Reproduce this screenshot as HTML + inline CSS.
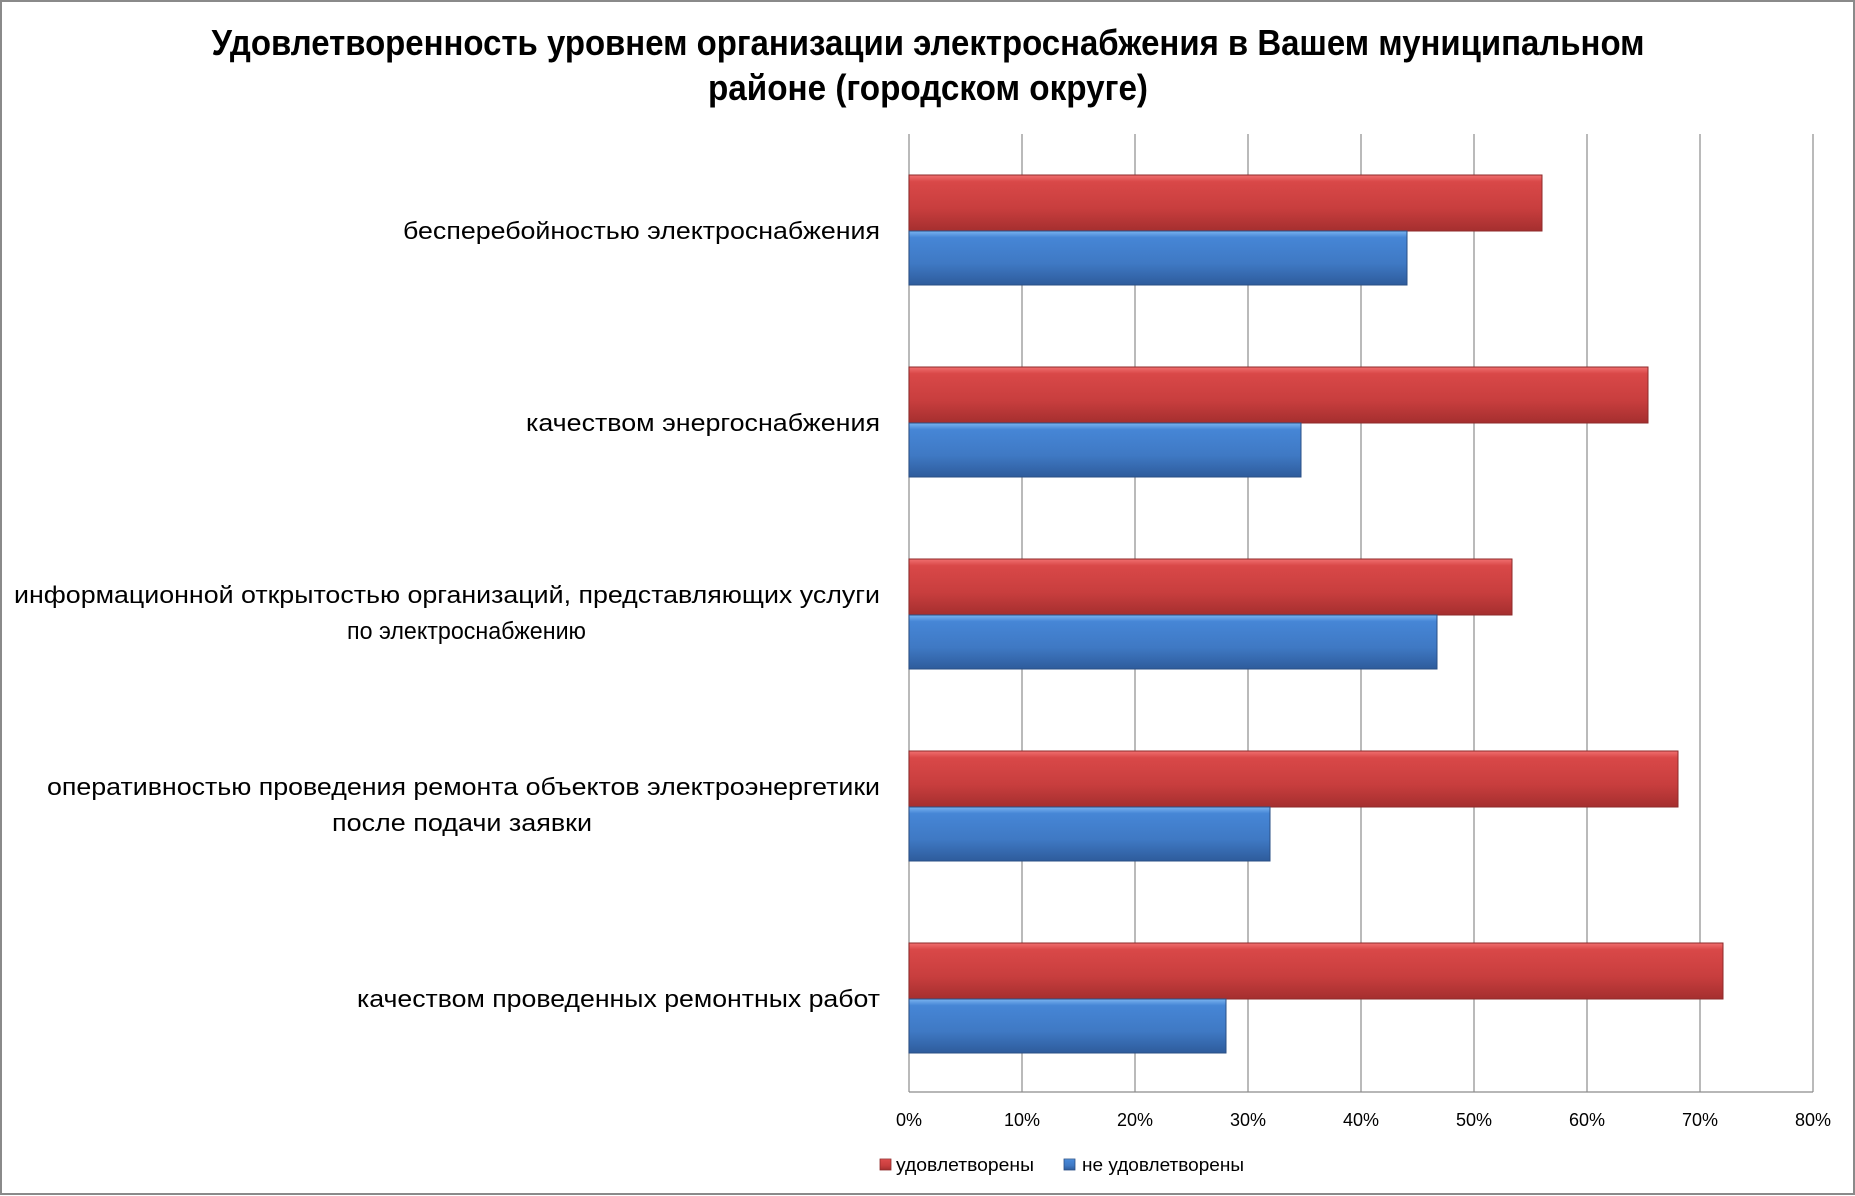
<!DOCTYPE html>
<html><head><meta charset="utf-8"><style>html,body{margin:0;padding:0;background:#fff}svg{display:block}</style></head>
<body>
<svg width="1855" height="1196" viewBox="0 0 1855 1196" xmlns="http://www.w3.org/2000/svg" font-family="'Liberation Sans', 'DejaVu Sans', sans-serif">
<defs>
<linearGradient id="r" x1="0" y1="0" x2="0" y2="1">
<stop offset="0" stop-color="#f07070"/><stop offset="0.12" stop-color="#d94848"/><stop offset="0.6" stop-color="#c83e3e"/><stop offset="1" stop-color="#a52f2f"/></linearGradient>
<linearGradient id="b" x1="0" y1="0" x2="0" y2="1">
<stop offset="0" stop-color="#7ab4f0"/><stop offset="0.12" stop-color="#4686d6"/><stop offset="0.6" stop-color="#3f79c4"/><stop offset="1" stop-color="#2e5c9c"/></linearGradient>
</defs>
<rect x="1" y="1" width="1853" height="1193" fill="#fff" stroke="#8a8a8a" stroke-width="2"/>
<text x="928" y="55" font-size="36" font-weight="bold" text-anchor="middle" textLength="1433" lengthAdjust="spacingAndGlyphs">Удовлетворенность уровнем организации электроснабжения в Вашем муниципальном</text>
<text x="928" y="100" font-size="36" font-weight="bold" text-anchor="middle" textLength="440" lengthAdjust="spacingAndGlyphs">районе (городском округе)</text>
<g stroke="#8c8c8c" stroke-width="1.2">
<line x1="1022" y1="134" x2="1022" y2="1092"/><line x1="1135" y1="134" x2="1135" y2="1092"/><line x1="1248" y1="134" x2="1248" y2="1092"/><line x1="1361" y1="134" x2="1361" y2="1092"/><line x1="1474" y1="134" x2="1474" y2="1092"/><line x1="1587" y1="134" x2="1587" y2="1092"/><line x1="1700" y1="134" x2="1700" y2="1092"/><line x1="1813" y1="134" x2="1813" y2="1092"/>
<line x1="909" y1="134" x2="909" y2="1092"/><line x1="909" y1="1092" x2="1813" y2="1092"/>
</g>
<g stroke-width="1">
<rect x="909" y="175" width="633" height="56" fill="url(#r)" stroke="#8e2a2a"/>
<rect x="909" y="231" width="498" height="54" fill="url(#b)" stroke="#2a4f85"/>
<rect x="909" y="367" width="739" height="56" fill="url(#r)" stroke="#8e2a2a"/>
<rect x="909" y="423" width="392" height="54" fill="url(#b)" stroke="#2a4f85"/>
<rect x="909" y="559" width="603" height="56" fill="url(#r)" stroke="#8e2a2a"/>
<rect x="909" y="615" width="528" height="54" fill="url(#b)" stroke="#2a4f85"/>
<rect x="909" y="751" width="769" height="56" fill="url(#r)" stroke="#8e2a2a"/>
<rect x="909" y="807" width="361" height="54" fill="url(#b)" stroke="#2a4f85"/>
<rect x="909" y="943" width="814" height="56" fill="url(#r)" stroke="#8e2a2a"/>
<rect x="909" y="999" width="317" height="54" fill="url(#b)" stroke="#2a4f85"/>
</g>
<g font-size="24" fill="#000">
<text x="880" y="239" text-anchor="end" textLength="477" lengthAdjust="spacingAndGlyphs">бесперебойностью  электроснабжения</text>
<text x="880" y="431" text-anchor="end" textLength="354" lengthAdjust="spacingAndGlyphs">качеством энергоснабжения</text>
<text x="880" y="603" text-anchor="end" textLength="866" lengthAdjust="spacingAndGlyphs">информационной открытостью организаций, представляющих услуги</text>
<text x="347" y="639" textLength="239" lengthAdjust="spacingAndGlyphs">по электроснабжению</text>
<text x="880" y="795" text-anchor="end" textLength="833" lengthAdjust="spacingAndGlyphs">оперативностью проведения ремонта объектов электроэнергетики</text>
<text x="332" y="831" textLength="260" lengthAdjust="spacingAndGlyphs">после подачи заявки</text>
<text x="880" y="1007" text-anchor="end" textLength="523" lengthAdjust="spacingAndGlyphs">качеством проведенных ремонтных работ</text>
</g>
<g font-size="18" text-anchor="middle" fill="#000">
<text x="909" y="1126">0%</text><text x="1022" y="1126">10%</text><text x="1135" y="1126">20%</text><text x="1248" y="1126">30%</text><text x="1361" y="1126">40%</text><text x="1474" y="1126">50%</text><text x="1587" y="1126">60%</text><text x="1700" y="1126">70%</text><text x="1813" y="1126">80%</text>
</g>
<rect x="880" y="1159" width="11" height="11" fill="url(#r)" stroke="#8e2a2a" stroke-width="0.8"/>
<text x="896" y="1171" font-size="18" textLength="138" lengthAdjust="spacingAndGlyphs">удовлетворены</text>
<rect x="1064" y="1159" width="11" height="11" fill="url(#b)" stroke="#2a4f85" stroke-width="0.8"/>
<text x="1082" y="1171" font-size="18" textLength="162" lengthAdjust="spacingAndGlyphs">не удовлетворены</text>
</svg>
</body></html>
